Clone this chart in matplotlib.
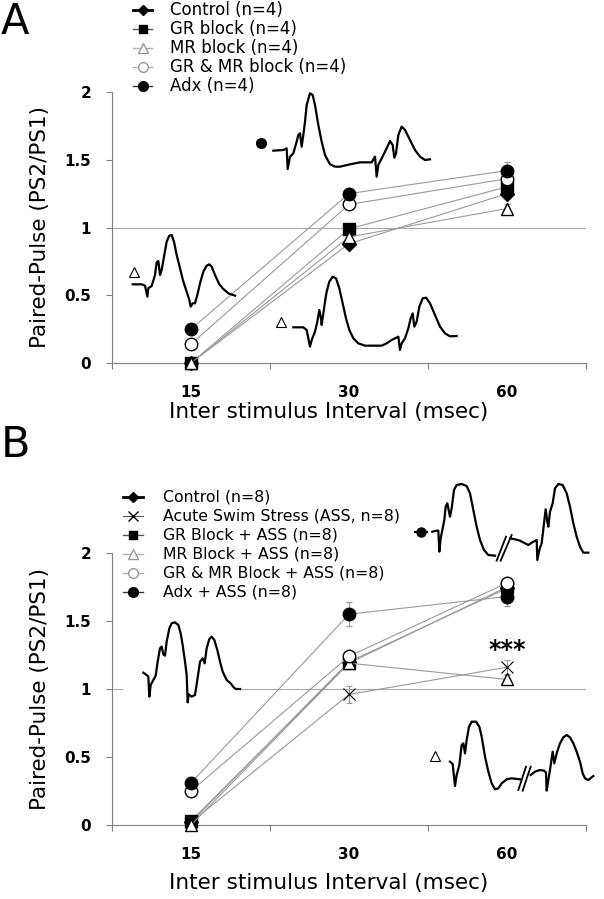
import matplotlib
matplotlib.use("Agg")
import matplotlib.pyplot as plt
from matplotlib.patches import Rectangle

plt.rcParams['font.family'] = ['DejaVu Sans']

# ---- data -------------------------------------------------------------
intervals = ['15', '30', '60']
xpos = [0.5, 1.5, 2.5]

# panel A
a_labels = ['Control (n=4)', 'GR block (n=4)', 'MR block (n=4)',
            'GR & MR block (n=4)', 'Adx (n=4)']
a_ctrl = [0.0, 0.88, 1.25]
a_gr = [0.0, 0.99, 1.30]
a_mr = [0.0, 0.93, 1.14]
a_grmr = [0.14, 1.17, 1.36]
a_adx = [0.25, 1.25, 1.42]
a_ctrl_err = [0.01, 0.03, 0.03]
a_gr_err = [0.01, 0.03, 0.03]
a_mr_err = [0.01, 0.03, 0.03]
a_grmr_err = [0.02, 0.03, 0.03]
a_adx_err = [0.02, 0.03, 0.06]

# panel B
b_labels = ['Control (n=8)', 'Acute Swim Stress (ASS, n=8)', 'GR Block + ASS (n=8)',
            'MR Block + ASS (n=8)', 'GR & MR Block + ASS (n=8)', 'Adx + ASS (n=8)']
b_ctrl = [0.02, 1.20, 1.74]
b_ass = [0.02, 0.96, 1.16]
b_gr = [0.03, 1.19, 1.75]
b_mr = [0.0, 1.19, 1.07]
b_grmr = [0.25, 1.24, 1.78]
b_adx = [0.31, 1.55, 1.68]
b_ctrl_err = [0.01, 0.03, 0.03]
b_ass_err = [0.01, 0.06, 0.05]
b_gr_err = [0.01, 0.03, 0.03]
b_mr_err = [0.01, 0.03, 0.03]
b_grmr_err = [0.02, 0.03, 0.03]
b_adx_err = [0.03, 0.09, 0.07]

# example traces (samples in 1/3 pixel units, relative to their origin)
trA1_x = [100,130,140,143,150,160,170,175,180,185,190,195,200,210,218,225,235,245,255,270,285,300,330,360,395,405,410,415,425,440,450,458,463,468,475,485,495,510,525,540,555,570]
trA1_y = [197,195,190,252,215,205,170,150,145,185,150,110,60,25,30,60,120,170,210,238,245,245,238,232,232,215,275,240,220,190,168,180,218,205,150,125,135,165,195,215,225,223]
trA2_x = [218,245,255,262,265,275,285,290,295,300,305,312,320,328,335,342,350,360,370,380,388,392,398,405,412,420,430,440,448,455,465,478,490,505,525]
trA2_y = [178,178,182,215,190,183,150,112,108,150,135,95,50,32,30,50,90,130,170,200,225,245,235,235,210,175,140,122,118,125,150,178,192,205,212]
trA3_x = [100,130,140,150,155,165,172,178,183,185,190,195,200,208,218,228,238,248,258,268,280,295,315,365,380,395,415,420,425,435,445,452,458,463,470,478,488,498,510,525,540,555,570,590]
trA3_y = [187,187,195,245,225,200,170,135,160,180,145,110,80,50,35,40,70,115,160,195,220,235,242,242,235,225,215,255,235,220,190,160,145,185,170,125,100,98,115,150,185,205,214,213]
trB1_x = [100,110,115,118,122,130,137,143,150,155,160,165,170,178,185,195,205,212,218,225,230,233,236,245,255,262,270,278,284,290,298,305,313,322,330,338,350,362,372,378,390]
trB1_y = [173,180,185,245,210,195,182,140,100,95,118,122,80,40,25,22,30,55,90,140,180,262,238,245,240,195,140,130,145,100,72,65,75,105,140,170,195,205,218,222,222]
trB2a_x = [97,110,115,118,122,128,133,137,142,147,150,155,162,170,185,200,210,220,230,240,252,265,285]
trB2a_y = [185,182,182,245,205,175,150,110,100,125,140,115,60,45,42,48,70,120,170,210,240,255,257]
trB2b_x = [330,345,360,375,385,400,410,412,418,425,432,437,442,445,450,458,465,475,488,500,510,520,530,540,550,565]
trB2b_y = [205,208,212,220,225,215,210,270,240,220,160,118,155,170,125,100,55,42,45,70,110,160,200,230,248,248]
trB3a_x = [150,158,165,170,178,185,190,195,200,207,215,228,238,245,255,265,275,285,295,305,320,335,360]
trB3a_y = [185,192,258,225,195,135,130,160,120,80,65,65,80,110,170,215,250,268,265,250,238,235,238]
trB3b_x = [392,405,420,432,438,440,445,450,458,463,470,480,490,500,510,520,530,540,548,555,565,575,580]
trB3b_y = [225,215,210,212,218,272,240,210,155,190,160,130,112,105,112,130,155,185,220,235,240,232,228]

# ---- figure -----------------------------------------------------------
W, H = 604, 899
fig = plt.figure(figsize=(W / 100, H / 100), dpi=100)

LINE = '#9a9a9a'
SPINE = '#808080'


def px_rect(x0, y0, x1, y1):
    return [x0 / W, 1 - y1 / H, (x1 - x0) / W, (y1 - y0) / H]


def style_axes(ax, label_top):
    ax.set_xlim(0, 3)
    ax.set_ylim(0, 2)
    ax.set_facecolor('none')
    for s in ['top', 'right']:
        ax.spines[s].set_visible(False)
    for s in ['left', 'bottom']:
        ax.spines[s].set_color(SPINE)
        ax.spines[s].set_linewidth(0.8)
    ax.axhline(1, color='#a8a8a8', lw=0.8, zorder=1)
    ax.set_yticks([0, 0.5, 1, 1.5, 2], labels=['0', '0.5', '1', '1.5', '2'])
    ax.set_xticks([0, 1, 2, 3], labels=[])
    ax.set_xticks(xpos, labels=intervals, minor=True)
    ax.tick_params(which='major', color=SPINE, width=0.8, length=4, direction='out')
    ax.tick_params(axis='y', pad=11, labelsize=11)
    ax.tick_params(which='minor', axis='x', length=0, pad=16, labelsize=11)
    for t in ax.get_yticklabels() + ax.get_xticklabels(minor=True):
        t.set_fontweight('bold')
    ax.set_xlabel('Inter stimulus Interval (msec)', fontsize=15.5)
    ax.set_ylabel('Paired-Pulse (PS2/PS1)', fontsize=15.5)
    ax.xaxis.set_label_coords(0.456, label_top)
    ax.yaxis.set_label_coords(-0.13, 0.5)


def series(ax, y, err, marker, face, ms, mew=1.0):
    ax.errorbar(xpos, y, yerr=err, color=LINE, lw=0.8, ecolor=LINE, elinewidth=0.8,
                capsize=2, marker=marker, mfc=face, mec='black', ms=ms, mew=mew,
                clip_on=False, zorder=3)


axA = fig.add_axes(px_rect(112, 92, 586, 363))
style_axes(axA, -0.145)
series(axA, a_ctrl, a_ctrl_err, 'D', 'black', 7)
series(axA, a_gr, a_gr_err, 's', 'black', 8)
series(axA, a_mr, a_mr_err, '^', 'white', 9)
series(axA, a_grmr, a_grmr_err, 'o', 'white', 9)
series(axA, a_adx, a_adx_err, 'o', 'black', 9)

axB = fig.add_axes(px_rect(112, 553, 586, 825))
style_axes(axB, -0.175)
series(axB, b_ctrl, b_ctrl_err, 'D', 'black', 7)
series(axB, b_ass, b_ass_err, 'x', 'black', 9, 0.8)
series(axB, b_gr, b_gr_err, 's', 'black', 8)
series(axB, b_mr, b_mr_err, '^', 'white', 9)
series(axB, b_grmr, b_grmr_err, 'o', 'white', 9)
series(axB, b_adx, b_adx_err, 'o', 'black', 9)
axB.text(2.5, 1.29, '***', ha='center', va='center', fontsize=17, fontweight='bold')

# ---- overlay in pixel coordinates: legends, traces, panel letters ----
ov = fig.add_axes([0, 0, 1, 1], zorder=5)
ov.set_xlim(0, W)
ov.set_ylim(H, 0)
ov.axis('off')
ov.patch.set_alpha(0)

ov.text(1, 1, 'A', fontsize=30, va='top', ha='left')
ov.text(1, 424, 'B', fontsize=31, va='top', ha='left')

# legend handle styles: (line color, line width, marker, face, edge, size)
a_handles = [('black', 2.0, 'D', 'black', 'black', 5),
             ('#555555', 1.0, 's', 'black', 'black', 6),
             ('#b0b0b0', 1.0, '^', 'white', '#999999', 7),
             ('#b0b0b0', 1.0, 'o', 'white', '#999999', 7),
             ('#333333', 1.0, 'o', 'black', 'black', 7)]
b_handles = [('black', 2.0, 'D', 'black', 'black', 5),
             ('#555555', 0.8, 'x', 'black', 'black', 7),
             ('#555555', 1.0, 's', 'black', 'black', 6),
             ('#b0b0b0', 1.0, '^', 'white', '#999999', 7),
             ('#b0b0b0', 1.0, 'o', 'white', '#999999', 7),
             ('#333333', 1.0, 'o', 'black', 'black', 7)]


def legend(labels, handles, x0, x1, xt, y0, dy, fs):
    for i, (lab, h) in enumerate(zip(labels, handles)):
        y = y0 + i * dy
        ov.plot([x0, x1], [y, y], color=h[0], lw=h[1])
        ov.plot([(x0 + x1) / 2], [y], marker=h[2], mfc=h[3], mec=h[4], ms=h[5],
                color=h[4], mew=1.0)
        ov.text(xt, y, lab, fontsize=fs, va='center', ha='left')


legend(a_labels, a_handles, 133, 152, 170, 10, 19, 12)
legend(b_labels, b_handles, 123, 143, 163, 497, 19, 11.3)


def trace(ox, oy, xs, ys):
    ov.plot([ox + v / 3 for v in xs], [oy + v / 3 for v in ys], color='black', lw=1.6,
            solid_joinstyle='round', zorder=6)


def brk(ox, oy, segs):
    for (xa, ya, xb, yb) in segs:
        ov.plot([ox + xa / 3, ox + xb / 3], [oy + ya / 3, oy + yb / 3], color='black',
                lw=1.3, zorder=6)


trace(240, 85, trA1_x, trA1_y)
ov.plot([260.5], [142.5], marker='o', color='black', ms=7)
trace(60, 225, trA2_x, trA2_y)
ov.plot([134], [272], marker='^', mfc='white', mec='black', ms=7, mew=0.8)
trace(260, 265, trA3_x, trA3_y)
ov.plot([280.5], [322], marker='^', mfc='white', mec='black', ms=7, mew=0.8)

ov.add_patch(Rectangle((123, 618), 113, 88, facecolor='white', edgecolor='none', zorder=4))
trace(110, 615, trB1_x, trB1_y)
ov.plot([128, 140], [673, 673], color='black', lw=1.5)
ov.plot([134], [673], marker='o', color='black', ms=6.5)

trace(400, 470, trB2a_x, trB2a_y)
trace(400, 470, trB2b_x, trB2b_y)
brk(400, 470, [(290, 272, 318, 200), (302, 272, 335, 195)])
ov.plot([415, 427], [532, 532], color='black', lw=1.5)
ov.plot([421], [532], marker='o', color='black', ms=6.5)

trace(400, 700, trB3a_x, trB3a_y)
trace(400, 700, trB3b_x, trB3b_y)
brk(400, 700, [(355, 270, 378, 200), (368, 272, 392, 200)])
ov.plot([435], [756], marker='^', mfc='white', mec='black', ms=7, mew=0.8)

fig.savefig('out.png', dpi=100)
